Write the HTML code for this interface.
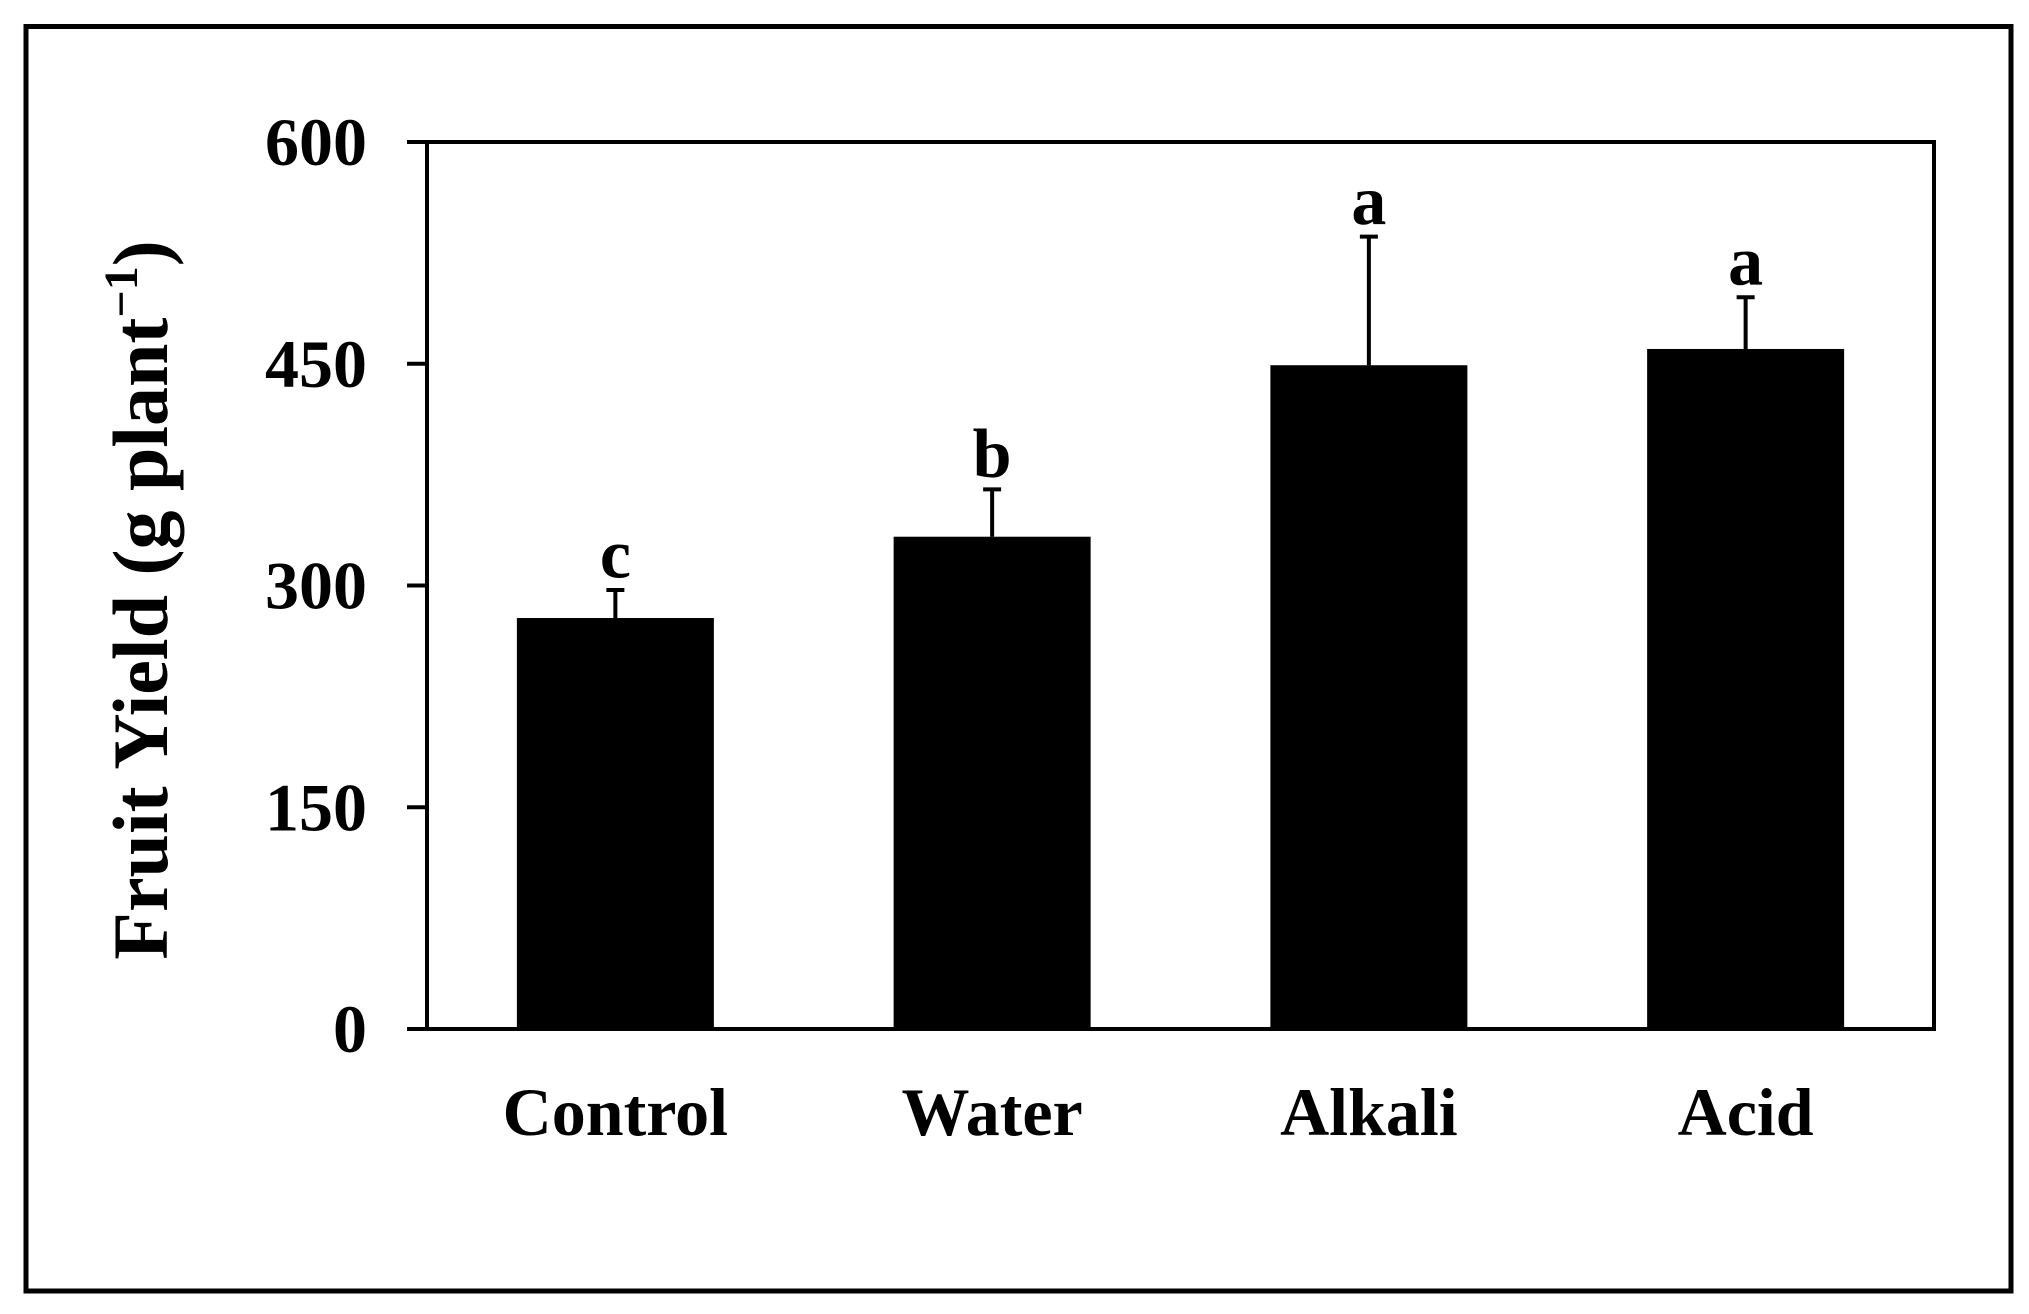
<!DOCTYPE html>
<html><head><meta charset="utf-8"><style>
html,body{margin:0;padding:0;background:#fff;}
svg{display:block;}
text{font-family:"Liberation Serif",serif;font-weight:bold;fill:#000;}
</style></head><body>
<svg id="chart" width="2029" height="1314" viewBox="0 0 2029 1314" xmlns="http://www.w3.org/2000/svg">
<rect x="26" y="26.5" width="1985" height="1264.5" fill="none" stroke="#000" stroke-width="5"/>
<rect x="427" y="142" width="1507" height="887" fill="none" stroke="#000" stroke-width="4"/>
<text transform="translate(167,600) rotate(-90)" text-anchor="middle" font-size="78">Fruit Yield (g plant<tspan font-size="48" dy="-30">−1</tspan><tspan dy="30">)</tspan></text>
<g id="marks"></g>
</svg>
<script>
const categories = ["Control","Water","Alkali","Acid"];
const values = [278, 333, 449, 460];
const errors = [20, 33, 88, 36];
const letters = ["c","b","a","a"];
const yTicks = [0,150,300,450,600];

const X0=427, X1=1934, Y0=1029, Y1=142, YMAX=600;
const y = v => Y0 - (v/YMAX)*(Y0-Y1);
const band = (X1-X0)/categories.length;
const xc = i => X0 + band*(i+0.5);
const barW = 197;
const NS="http://www.w3.org/2000/svg";
const g=document.getElementById('marks');
function mk(tag, attrs){const e=document.createElementNS(NS,tag);for(const k in attrs)e.setAttribute(k,attrs[k]);g.appendChild(e);return e;}

yTicks.forEach(t=>{
  const l=mk('line',{x1:407,x2:X0,y1:y(t),y2:y(t),stroke:'#000','stroke-width':4});
  
  
  const tx=mk('text',{x:367,y:y(t)+23,'text-anchor':'end','font-size':68});
  tx.textContent=t;
  
  
});

categories.forEach((c,i)=>{
  const cx=xc(i);
  const b=mk('rect',{x:cx-barW/2,y:y(values[i]),width:barW,height:Y0-y(values[i]),fill:'#000'});
  
  
  const top=y(values[i]+errors[i]);
  const e=mk('line',{x1:cx,x2:cx,y1:y(values[i]),y2:top,stroke:'#000','stroke-width':4});
  
  
  const cap=mk('line',{x1:cx-9,x2:cx+9,y1:top+1.5,y2:top+1.5,stroke:'#000','stroke-width':4});
  
  
  const lt=mk('text',{x:cx,y:top-11,'text-anchor':'middle','font-size':70});
  lt.textContent=letters[i];
  
  
  const xl=mk('text',{x:cx,y:1135,'text-anchor':'middle','font-size':68});
  xl.textContent=c;
  
  
});
</script>
</body></html>
